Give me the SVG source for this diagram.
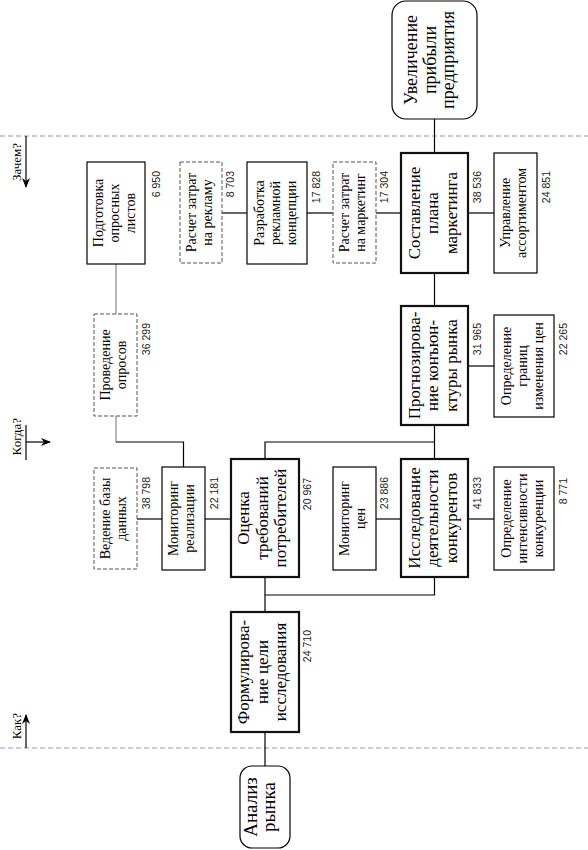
<svg xmlns="http://www.w3.org/2000/svg" width="588" height="850" viewBox="0 0 588 850">
<style>
  .box{fill:#fff;stroke:#000;stroke-width:1.2}
  .thick{fill:#fff;stroke:#111;stroke-width:2.2}
  .dash{fill:#fff;stroke:#555;stroke-width:1;stroke-dasharray:4,2}
  .t{font-family:"Liberation Serif","Times New Roman",serif;font-size:14px;fill:#000;text-anchor:middle}
  .tb{font-family:"Liberation Serif","Times New Roman",serif;font-size:17px;fill:#000;text-anchor:middle}
  .num{font-family:"Liberation Sans",Arial,sans-serif;font-size:10.5px;fill:#222;text-anchor:end}
  .lbl{font-family:"Liberation Serif","Times New Roman",serif;font-size:13px;fill:#000;text-anchor:end}
  .c{stroke:#000;stroke-width:1.2;fill:none}
  .g{stroke:#888;stroke-width:1.2;fill:none}
  .sep{stroke:#999;stroke-width:1;stroke-dasharray:5,3}
</style>
<defs>
  <marker id="ah" markerWidth="10" markerHeight="8" refX="9" refY="4" orient="auto" markerUnits="userSpaceOnUse">
    <path d="M0,0 L10,4 L0,8 L3,4 z" fill="#000"/>
  </marker>
</defs>

<!-- separators and axis labels -->
<g id="axes">
  <line class="sep" x1="0" y1="136" x2="588" y2="136"/>
  <line class="sep" x1="0" y1="748" x2="588" y2="748"/>
  <text class="lbl" transform="translate(21,143) rotate(-90)">Зачем?</text>
  <line class="c" x1="26" y1="136" x2="26" y2="187" marker-end="url(#ah)"/>
  <text class="lbl" transform="translate(21,418) rotate(-90)">Когда?</text>
  <line class="c" x1="26" y1="425" x2="26" y2="460"/>
  <line class="c" x1="26" y1="442" x2="50" y2="442" marker-end="url(#ah)"/>
  <text class="lbl" transform="translate(21,713) rotate(-90)">Как?</text>
  <line class="c" x1="26" y1="748" x2="26" y2="715" marker-end="url(#ah)"/>
</g>

<g id="connectors">
  <line class="c" x1="434.5" y1="119" x2="434.5" y2="153"/>
  <line class="c" x1="222" y1="213" x2="247" y2="213"/>
  <line class="c" x1="307" y1="213" x2="333" y2="213"/>
  <line class="c" x1="376" y1="213" x2="401" y2="213"/>
  <line class="c" x1="468" y1="213" x2="494" y2="213"/>
  <line class="c" x1="434.5" y1="273" x2="434.5" y2="306"/>
  <line class="c" x1="468" y1="366" x2="494" y2="366"/>
  <line class="c" x1="434.5" y1="425" x2="434.5" y2="459"/>
  <polyline class="c" points="265,459 265,442 434.5,442"/>
  <line class="g" x1="116" y1="264" x2="116" y2="314"/>
  <line class="g" x1="116" y1="416" x2="116" y2="442"/>
  <polyline class="c" points="116,442 183.5,442 183.5,467"/>
  <line class="c" x1="137" y1="519" x2="162" y2="519"/>
  <line class="c" x1="205" y1="519" x2="231" y2="519"/>
  <line class="c" x1="376" y1="519" x2="401" y2="519"/>
  <line class="c" x1="468" y1="519" x2="494" y2="519"/>
  <polyline class="c" points="434.5,577 434.5,595 265,595"/>
  <line class="c" x1="265" y1="577" x2="265" y2="612"/>
  <line class="c" x1="265" y1="732" x2="265" y2="766"/>
</g>

<g id="goal">
  <rect class="box" x="392" y="1" width="85" height="118" rx="14"/>
  <text class="t" style="font-size:18px" transform="translate(434.5,60) rotate(-90)"><tspan x="0" y="-17.5">Увеличение</tspan><tspan x="0" y="1">прибыли</tspan><tspan x="0" y="19.5">предприятия</tspan></text>
</g>

<g id="plan">
  <rect class="thick" x="401" y="153" width="67" height="120"/>
  <text class="tb" transform="translate(434.5,213) rotate(-90)"><tspan x="0" y="-15">Составление</tspan><tspan x="0" y="3.5">плана</tspan><tspan x="0" y="22">маркетинга</tspan></text>
  <text class="num" transform="translate(480.5,171) rotate(-90)">38 536</text>
</g>

<g id="assort">
  <rect class="box" x="494" y="153" width="43" height="120"/>
  <text class="t" transform="translate(515.5,213) rotate(-90)"><tspan x="0" y="-5.5">Управление</tspan><tspan x="0" y="10.5">ассортиментом</tspan></text>
  <text class="num" transform="translate(550,171) rotate(-90)">24 851</text>
</g>

<g id="mcost">
  <rect class="dash" x="333" y="162" width="43" height="101"/>
  <text class="t" transform="translate(354.5,212.5) rotate(-90)"><tspan x="0" y="-5.5">Расчет затрат</tspan><tspan x="0" y="10.5">на маркетинг</tspan></text>
  <text class="num" transform="translate(388,171) rotate(-90)">17 304</text>
</g>

<g id="concept">
  <rect class="box" x="247" y="162" width="60" height="102"/>
  <text class="t" transform="translate(277,213) rotate(-90)"><tspan x="0" y="-13.5">Разработка</tspan><tspan x="0" y="2.5">рекламной</tspan><tspan x="0" y="18.5">концепции</tspan></text>
  <text class="num" transform="translate(319.5,171) rotate(-90)">17 828</text>
</g>

<g id="adcost">
  <rect class="dash" x="180" y="162" width="42" height="101"/>
  <text class="t" transform="translate(201,212.5) rotate(-90)"><tspan x="0" y="-5.5">Расчет затрат</tspan><tspan x="0" y="10.5">на рекламу</tspan></text>
  <text class="num" transform="translate(233.5,171) rotate(-90)">8 703</text>
</g>

<g id="sheets">
  <rect class="box" x="87" y="162" width="58" height="102"/>
  <text class="t" transform="translate(116,213) rotate(-90)"><tspan x="0" y="-13.5">Подготовка</tspan><tspan x="0" y="2.5">опросных</tspan><tspan x="0" y="18.5">листов</tspan></text>
  <text class="num" transform="translate(159.5,171) rotate(-90)">6 950</text>
</g>

<g id="survey">
  <rect class="dash" x="94" y="314" width="43" height="102"/>
  <text class="t" transform="translate(115.5,365) rotate(-90)"><tspan x="0" y="-5.5">Проведение</tspan><tspan x="0" y="10.5">опросов</tspan></text>
  <text class="num" transform="translate(150,323) rotate(-90)">36 299</text>
</g>

<g id="forecast">
  <rect class="thick" x="401" y="306" width="67" height="119"/>
  <text class="tb" transform="translate(434.5,365.5) rotate(-90)"><tspan x="0" y="-15">Прогнозирова-</tspan><tspan x="0" y="3.5">ние конъюн-</tspan><tspan x="0" y="22">ктуры рынка</tspan></text>
  <text class="num" transform="translate(480.5,323) rotate(-90)">31 965</text>
</g>

<g id="pricebounds">
  <rect class="box" x="494" y="315" width="60" height="102"/>
  <text class="t" transform="translate(524,366) rotate(-90)"><tspan x="0" y="-13.5">Определение</tspan><tspan x="0" y="2.5">границ</tspan><tspan x="0" y="18.5">изменения цен</tspan></text>
  <text class="num" transform="translate(567,323) rotate(-90)">22 265</text>
</g>

<g id="database">
  <rect class="dash" x="94" y="468" width="43" height="101"/>
  <text class="t" transform="translate(115.5,518.5) rotate(-90)"><tspan x="0" y="-5.5">Ведение базы</tspan><tspan x="0" y="10.5">данных</tspan></text>
  <text class="num" transform="translate(150,477) rotate(-90)">38 798</text>
</g>

<g id="salesmon">
  <rect class="box" x="162" y="467" width="43" height="103"/>
  <text class="t" transform="translate(183.5,518.5) rotate(-90)"><tspan x="0" y="-5.5">Мониторинг</tspan><tspan x="0" y="10.5">реализации</tspan></text>
  <text class="num" transform="translate(217.5,477) rotate(-90)">22 181</text>
</g>

<g id="needs">
  <rect class="thick" x="231" y="459" width="68" height="118"/>
  <text class="tb" transform="translate(265,518) rotate(-90)"><tspan x="0" y="-16">Оценка</tspan><tspan x="0" y="2.5">требований</tspan><tspan x="0" y="21">потребителей</tspan></text>
  <text class="num" transform="translate(311,478) rotate(-90)">20 967</text>
</g>

<g id="pricemon">
  <rect class="box" x="333" y="467" width="43" height="103"/>
  <text class="t" transform="translate(354.5,518.5) rotate(-90)"><tspan x="0" y="-5.5">Мониторинг</tspan><tspan x="0" y="10.5">цен</tspan></text>
  <text class="num" transform="translate(388,477) rotate(-90)">23 886</text>
</g>

<g id="competitors">
  <rect class="thick" x="401" y="459" width="67" height="118"/>
  <text class="tb" transform="translate(434.5,518) rotate(-90)"><tspan x="0" y="-15">Исследование</tspan><tspan x="0" y="3.5">деятельности</tspan><tspan x="0" y="22">конкурентов</tspan></text>
  <text class="num" transform="translate(480.5,477) rotate(-90)">41 833</text>
</g>

<g id="intensity">
  <rect class="box" x="494" y="467" width="60" height="103"/>
  <text class="t" transform="translate(524,518.5) rotate(-90)"><tspan x="0" y="-13.5">Определение</tspan><tspan x="0" y="2.5">интенсивности</tspan><tspan x="0" y="18.5">конкуренции</tspan></text>
  <text class="num" transform="translate(567,478) rotate(-90)">8 771</text>
</g>

<g id="purpose">
  <rect class="thick" x="231" y="612" width="68" height="120"/>
  <text class="tb" transform="translate(265,672) rotate(-90)"><tspan x="0" y="-16">Формулирова-</tspan><tspan x="0" y="2.5">ние цели</tspan><tspan x="0" y="21">исследования</tspan></text>
  <text class="num" transform="translate(311,630) rotate(-90)">24 710</text>
</g>

<g id="analysis">
  <rect class="box" x="240" y="766" width="50" height="82" rx="12"/>
  <text class="t" style="font-size:19px" transform="translate(265,807) rotate(-90)"><tspan x="0" y="-8">Анализ</tspan><tspan x="0" y="10">рынка</tspan></text>
</g>
</svg>
